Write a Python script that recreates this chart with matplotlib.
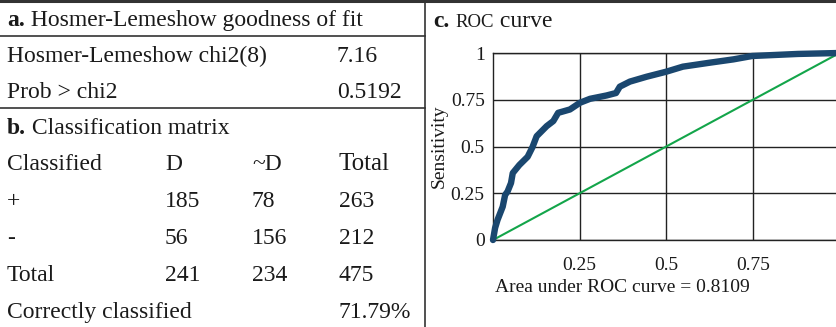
import matplotlib
matplotlib.use('Agg')
import matplotlib.pyplot as plt

plt.rcParams['font.family'] = ['Liberation Serif', 'DejaVu Serif']

W, H = 837, 327

# ROC curve points (1 - specificity, sensitivity)
fpr = [0.0, 0.006, 0.013, 0.028, 0.035, 0.042, 0.052, 0.057, 0.076, 0.100,
       0.114, 0.126, 0.155, 0.174, 0.188, 0.222, 0.251, 0.280, 0.328, 0.355,
       0.366, 0.395, 0.443, 0.500, 0.548, 0.625, 0.694, 0.748, 0.880, 1.0]
tpr = [0.0, 0.064, 0.107, 0.178, 0.241, 0.259, 0.305, 0.358, 0.401, 0.445,
       0.497, 0.555, 0.609, 0.636, 0.680, 0.698, 0.734, 0.755, 0.773, 0.786,
       0.820, 0.847, 0.873, 0.900, 0.927, 0.948, 0.966, 0.984, 0.995, 1.0]
auc = 0.8109

# Hosmer-Lemeshow table
hl_labels = ['Hosmer-Lemeshow chi2(8)', 'Prob > chi2']
hl_values = ['7.16', '0.5192']

# classification matrix
cm_header = ['Classified', 'D', '~D', 'Total']
cm_rows = [['+', '185', '78', '263'],
           ['-', '56', '156', '212'],
           ['Total', '241', '234', '475']]
correct_pct = '71.79%'

xticks = [0.25, 0.5, 0.75, 1]
yticks = [0, 0.25, 0.5, 0.75, 1]

fig = plt.figure(figsize=(W / 100, H / 100), dpi=100)
renderer = fig.canvas.get_renderer()
FS = 17
INK = '#1a1a1a'


def fx(px):
    return px / W


def fy(py):
    return 1 - py / H


def put(x, y, s, size=FS, **kw):
    return fig.text(fx(x), fy(y), s, fontsize=size, color=INK, va='baseline', **kw)


def runs(x, y, parts):
    # draw text pieces one after another on the same baseline
    for s, props in parts:
        t = put(x, y, s, **props)
        bb = t.get_window_extent(renderer=renderer)
        x = bb.x1


# rules
fig.add_artist(plt.Line2D([0, 1], [fy(1), fy(1)], color='#333333', lw=2.2))
fig.add_artist(plt.Line2D([fx(425), fx(425)], [0, fy(1)], color='#333333', lw=1.2))
for yy in [36, 108]:
    fig.add_artist(plt.Line2D([0, fx(425)], [fy(yy), fy(yy)], color='#333333', lw=1.2))

# panel a
runs(7, 26, [('a.', dict(fontweight='bold')), (' Hosmer-Lemeshow goodness of fit', {})])
for i, (lab, val) in enumerate(zip(hl_labels, hl_values)):
    yb = 62 + 36 * i
    put(7, yb, lab)
    put(337, yb, val)

# panel b
runs(7, 134, [('b.', dict(fontweight='bold')), (' Classification matrix', {})])
col_x = [7, 165, 252, 339]
for cx, s in zip(col_x, cm_header):
    put(cx, 170, s, size=FS + 1 if s == 'Total' else FS)
for r, row in enumerate(cm_rows):
    yb = 207 + 37 * r
    for cx, s in zip(col_x, row):
        put(cx, yb, s)
put(7, 318, 'Correctly classified')
put(339, 318, correct_pct)

# panel c
runs(433, 27, [('c.', dict(fontweight='bold')), (' ', {}),
               ('ROC', dict(size=13.5)), (' curve', {})])

ax = fig.add_axes([fx(493), fy(240), 346.5 / W, (240 - 53) / H])
ax.set_xlim(0, 1)
ax.set_ylim(0, 1)
ax.set_xticks(xticks)
ax.set_xticklabels(['0.25', '0.5', '0.75', '1'])
ax.set_yticks(yticks)
ax.set_yticklabels(['0', '0.25', '0.5', '0.75', '1'])
ax.tick_params(length=0, labelsize=14, colors=INK)
ax.tick_params(axis='x', pad=12)
ax.tick_params(axis='y', pad=6)
ax.grid(True, color='#222222', lw=1.0)
ax.set_axisbelow(True)
for sp in ax.spines.values():
    sp.set_color('#222222')
    sp.set_linewidth(1.0)

ax.plot([0, 1], [0, 1], color='#13a54a', lw=1.5, zorder=3)
ax.plot(fpr, tpr, color='#1a476f', lw=4.6, solid_joinstyle='round',
        solid_capstyle='round', zorder=4, clip_on=False)

fig.text(fx(439), fy(146), 'Sensitivity', rotation=90, fontsize=14, color=INK,
         ha='center', va='center')
put(495, 292, 'Area under ROC curve = %.4f' % auc, size=14)

fig.savefig('out.png', dpi=100)
